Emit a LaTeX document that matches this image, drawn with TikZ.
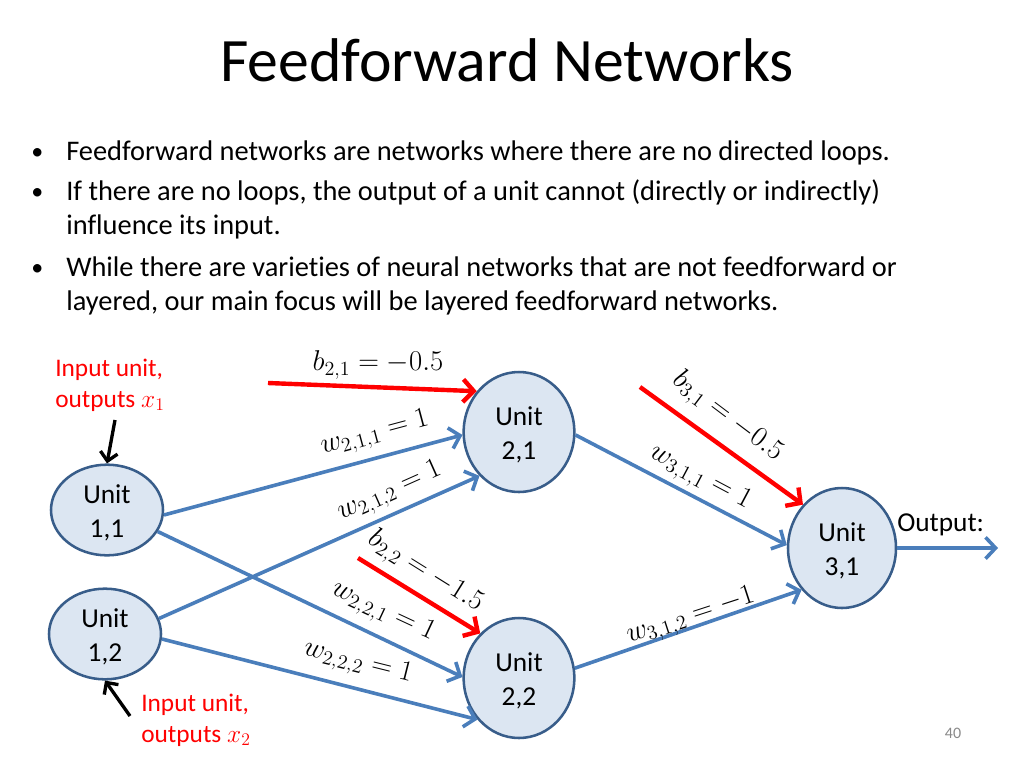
\RequirePackage{fix-cm}
\documentclass[tikz,border=0pt]{standalone}
\usepackage{fontspec}
\setmainfont[Ligatures=NoCommon,RawFeature={-liga}]{Carlito}
\usetikzlibrary{arrows.meta,shapes.geometric}
\definecolor{edgeblue}{RGB}{74,126,187}
\definecolor{nodefill}{RGB}{220,230,242}
\definecolor{nodeline}{RGB}{56,93,138}
\definecolor{pagegray}{RGB}{137,137,137}
\begin{document}
\begin{tikzpicture}[x=0.75pt,y=-0.75pt,
  unitnode/.style={ellipse,draw=nodeline,fill=nodefill,line width=1.9pt,inner sep=0pt,
    align=center,font=\fontsize{20.5}{25.5}\selectfont},
  smallunit/.style={unitnode,minimum width=84pt,minimum height=68pt},
  bigunit/.style={unitnode,minimum width=83pt,minimum height=90pt},
  wedge/.style={draw=edgeblue,line width=2.7pt,-{Straight Barb[length=7.5pt,width=16pt]}},
  biasedge/.style={draw=red,line width=3.3pt,-{Straight Barb[length=8pt,width=17pt]}},
  inedge/.style={draw=black,line width=2.5pt,-{Straight Barb[length=6.5pt,width=13pt]}},
  mlabel/.style={font=\fontsize{21.5}{25}\selectfont,inner sep=0pt},
  bullettext/.style={anchor=base west,font=\fontsize{21.3}{25.5}\selectfont,inner sep=0pt},
  bulletmark/.style={anchor=base west,font=\fontsize{18}{25.5}\selectfont,inner sep=0pt},
  redtext/.style={anchor=base west,text=red,font=\fontsize{19}{23}\selectfont,inner sep=0pt}]
\useasboundingbox (0,0) rectangle (1024,768);

% title
\node[anchor=base,font=\fontsize{46.3}{55}\selectfont,inner sep=0pt] (title) at (507,81) {Feedforward Networks};

% bullets
\node[bulletmark] (b1) at (31,159) {•};
\node[bullettext] (t1) at (66,160) {Feedforward networks are networks where there are no directed loops.};
\node[bulletmark] (b2) at (31,199) {•};
\node[bullettext] (t2) at (66,200) {If there are no loops, the output of a unit cannot (directly or indirectly)};
\node[bullettext] (t2b) at (66,234) {influence its input.};
\node[bulletmark] (b3) at (31,275) {•};
\node[bullettext] (t3) at (66,276) {While there are varieties of neural networks that are not feedforward or};
\node[bullettext] (t3b) at (66,310) {layered, our main focus will be layered feedforward networks.};

% units
\node[smallunit] (u11) at (107,510) {\strut Unit\\1,1};
\node[smallunit] (u12) at (105,634) {\strut Unit\\1,2};
\node[bigunit] (u21) at (519,432) {\strut Unit\\2,1};
\node[bigunit] (u22) at (519,678) {\strut Unit\\2,2};
\node[bigunit,minimum width=81pt] (u31) at (842,548) {\strut Unit\\3,1};

% free ends
\coordinate (in1) at (115,420);
\coordinate (in2) at (130,716);
\coordinate (bs21) at (268,383);
\coordinate (bs22) at (358,558);
\coordinate (bs31) at (640,387);
\coordinate (outp) at (998,548);

% weight edges
\draw[wedge] (u11.-5) -- (u21.183);
\draw[wedge] (u12.16) -- (u21.228);
\draw[wedge] (u11.-23) -- (u22.179);
\draw[wedge] (u12.-5) -- (u22.225);
\draw[wedge] (u21.-3) -- (u31.177);
\draw[wedge] (u22.10) -- (u31.226);
\draw[wedge] (u31.0) -- (outp);

% bias edges
\draw[biasedge] (bs21) -- (u21.136);
\draw[biasedge] (bs22) -- (u22.131);
\draw[biasedge] (bs31) -- (u31.132);

% input arrows
\draw[inedge] (in1) -- (u11.north);
\draw[inedge] (in2) -- (u12.south);

% labels
\node[mlabel] (lb21) at (378,365) {$b_{2,1}=-0.5$};
\node[mlabel,rotate=15] (lw211) at (375,434) {$w_{2,1,1}=1$};
\node[mlabel,rotate=24] (lw212) at (390,492) {$w_{2,1,2}=1$};
\node[mlabel,rotate=-32] (lb22) at (425,572) {$b_{2,2}=-1.5$};
\node[mlabel,rotate=-25] (lw221) at (383,612) {$w_{2,2,1}=1$};
\node[mlabel,rotate=-14] (lw222) at (358,663) {$w_{2,2,2}=1$};
\node[mlabel,rotate=-37] (lb31) at (727,417) {$b_{3,1}=-0.5$};
\node[mlabel,rotate=-28] (lw311) at (700,478) {$w_{3,1,1}=1$};
\node[mlabel,rotate=18] (lw312) at (691,617) {$w_{3,1,2}=-1$};

\node[redtext] (r1) at (55,376) {Input unit,};
\node[redtext] (r1b) at (55,407) {outputs $x_1$};
\node[redtext] (r2) at (141,711) {Input unit,};
\node[redtext] (r2b) at (141,742) {outputs $x_2$};

\node[anchor=base west,font=\fontsize{20.5}{25}\selectfont,inner sep=0pt] (outl) at (897,531) {Output:};
\node[font=\fontsize{12}{14}\selectfont,text=pagegray,inner sep=0pt] (pg) at (953,733) {40};
\end{tikzpicture}
\end{document}
